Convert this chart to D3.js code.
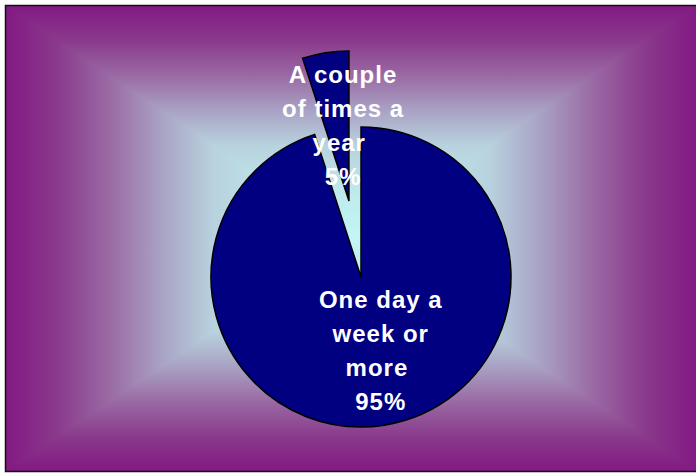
<!DOCTYPE html>
<html>
<head>
<meta charset="utf-8">
<script src="https://cdn.jsdelivr.net/npm/d3@7"></script>
<style>
  html, body { margin: 0; padding: 0; background: #ffffff; }
  svg { display: block; }
  .lbl { font-family: "Liberation Sans", Arial, sans-serif; font-weight: bold; font-size: 24px; fill: #ffffff; letter-spacing: 1px; white-space: pre; }
</style>
</head>
<body>
<svg id="chart" width="696" height="473"></svg>
<script>
// Survey answers: how often respondents do it
const categories = ["One day a week or more", "A couple of times a year"];
const values = [95, 5];
const labelLines = [
  ["One day a", "week or", "more ", "95%"],
  ["A couple", "of times a", "year ", "5%"]
];
const exploded = [false, true];

const W = 696, H = 473;
const svg = d3.select("#chart");
const defs = svg.append("defs");

// Chart area with a rectangular (centre-out) gradient fill: purple rim, pale cyan middle
const area = { x: 6, y: 6, w: 690, h: 465 };
const cx0 = area.x + area.w / 2, cy0 = area.y + area.h / 2;
const ramp = [
  [0.00, "#821a82"],
  [0.15, "#8a3a8c"],
  [0.30, "#9a6aa4"],
  [0.45, "#a9a2c4"],
  [0.60, "#b8d2de"],
  [0.80, "#bfeaec"],
  [1.00, "#c2f6f6"]
];
function mirroredGradient(id, horizontal) {
  const gr = defs.append("linearGradient").attr("id", id)
    .attr("gradientUnits", "userSpaceOnUse");
  if (horizontal) gr.attr("x1", area.x).attr("y1", 0).attr("x2", area.x + area.w).attr("y2", 0);
  else gr.attr("x1", 0).attr("y1", area.y).attr("x2", 0).attr("y2", area.y + area.h);
  ramp.forEach(([o, c]) => gr.append("stop").attr("offset", o / 2).attr("stop-color", c));
  ramp.slice().reverse().forEach(([o, c]) => gr.append("stop").attr("offset", 1 - o / 2).attr("stop-color", c));
}
mirroredGradient("gH", true);
mirroredGradient("gV", false);

svg.append("rect")
  .attr("x", area.x).attr("y", area.y).attr("width", area.w).attr("height", area.h)
  .attr("fill", "url(#gH)");
const x1 = area.x, x2 = area.x + area.w, y1 = area.y, y2 = area.y + area.h;
svg.append("path")
  .attr("d", `M${x1},${y1}L${x2},${y1}L${cx0},${cy0}Z M${x1},${y2}L${x2},${y2}L${cx0},${cy0}Z`)
  .attr("fill", "url(#gV)");
svg.append("rect")
  .attr("x", 5.5).attr("y", 5.5).attr("width", 692).attr("height", 466)
  .attr("fill", "none").attr("stroke", "#111").attr("stroke-width", 1.5);

// Pie
const cx = 361, cy = 277, R = 150, explodeDist = 77;
const pie = d3.pie().sort(null).value(d => d)(values);
const arc = d3.arc().innerRadius(0).outerRadius(R);

const g = svg.append("g").attr("transform", `translate(${cx},${cy})`);
const mid = d => (d.startAngle + d.endAngle) / 2;
const polar = (a, r) => [Math.sin(a) * r, -Math.cos(a) * r];

g.selectAll("path.slice").data(pie).join("path")
  .attr("class", "slice")
  .attr("transform", (d, i) => {
    if (!exploded[i]) return null;
    const [dx, dy] = polar(mid(d), explodeDist);
    return `translate(${dx},${dy})`;
  })
  .attr("d", arc)
  .attr("fill", "#000080")
  .attr("stroke", "#000")
  .attr("stroke-width", 1.5)
  .attr("stroke-linejoin", "miter");

// Data labels
const labelRadius = [75, 153];
const labelDx = [8, 6];
const lineH = 34;
pie.forEach((d, i) => {
  const [lx, ly] = polar(mid(d), labelRadius[i]);
  const lines = labelLines[i];
  const t = g.append("text").attr("class", "lbl").attr("text-anchor", "middle");
  const top = ly - (lines.length - 1) * lineH / 2 + 8;
  lines.forEach((s, k) => {
    t.append("tspan").attr("x", lx + labelDx[i]).attr("y", top + k * lineH).text(s);
  });
});
</script>
</body>
</html>
